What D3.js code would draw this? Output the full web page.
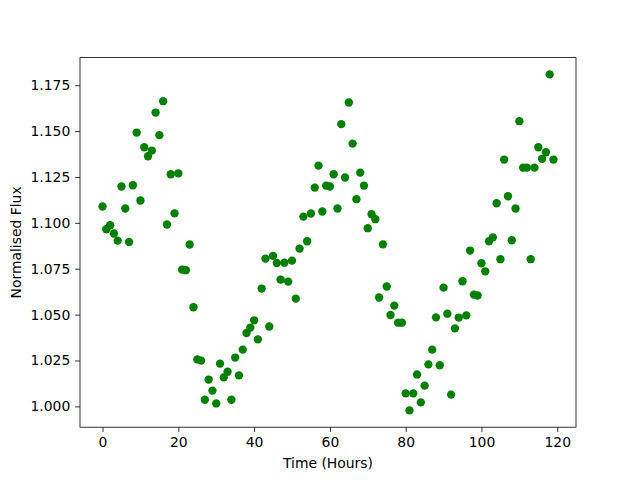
<!DOCTYPE html>
<html>
<head>
<meta charset="utf-8">
<script src="https://cdn.jsdelivr.net/npm/d3@7"></script>
<style>
  body { margin: 0; background: #fff; }
  svg text { font-family: "DejaVu Sans", sans-serif; }
</style>
</head>
<body>
<svg id="chart" width="640" height="480"></svg>
<script>
// hours, one reading per hour
const hours = d3.range(0, 120);

// normalised flux
const flux = [
  1.1089, 1.0965, 1.0987, 1.0942, 1.0903, 1.1198, 1.1078, 1.0896, 1.1205, 1.1492,
  1.1122, 1.1412, 1.1363, 1.1394, 1.1601, 1.1478, 1.1663, 1.0991, 1.1265, 1.1052,
  1.1270, 1.0745, 1.0742, 1.0882, 1.0540, 1.0256, 1.0249, 1.0036, 1.0146, 1.0086,
  1.0016, 1.0233, 1.0158, 1.0189, 1.0036, 1.0266, 1.0169, 1.0309, 1.0400, 1.0429,
  1.0469, 1.0365, 1.0642, 1.0805, 1.0435, 1.0820, 1.0781, 1.0691, 1.0783, 1.0680,
  1.0794, 1.0587, 1.0860, 1.1034, 1.0900, 1.1051, 1.1192, 1.1312, 1.1062, 1.1203,
  1.1198, 1.1265, 1.1078, 1.1538, 1.1247, 1.1656, 1.1432, 1.1129, 1.1274, 1.1203,
  1.0971, 1.1047, 1.1020, 1.0593, 1.0883, 1.0653, 1.0498, 1.0549, 1.0456, 1.0456,
  1.0071, 0.9978, 1.0071, 1.0174, 1.0022, 1.0113, 1.0229, 1.0309, 1.0485, 1.0224,
  1.0647, 1.0505, 1.0064, 1.0425, 1.0484, 1.0682, 1.0496, 1.0849, 1.0609, 1.0604,
  1.0780, 1.0736, 1.0900, 1.0921, 1.1107, 1.0802, 1.1345, 1.1145, 1.0905, 1.1078,
  1.1554, 1.1301, 1.1301, 1.0802, 1.1301, 1.1412, 1.1349, 1.1385, 1.1809, 1.1345
];

const xTicks = [0, 20, 40, 60, 80, 100, 120];
const yTicks = [1.000, 1.025, 1.050, 1.075, 1.100, 1.125, 1.150, 1.175];

const xLabel = 'Time (Hours)';
const yLabel = 'Normalised Flux';

const width = 640, height = 480;
const margin = { left: 80, right: 64, top: 57.6, bottom: 52.8 };

const svg = d3.select('#chart');

// matplotlib style 5% padding around data
function padded(ext) {
  const m = (ext[1] - ext[0]) * 0.05;
  return [ext[0] - m, ext[1] + m];
}

const x = d3.scaleLinear()
  .domain(padded(d3.extent(hours)))
  .range([margin.left, width - margin.right]);

const y = d3.scaleLinear()
  .domain(padded(d3.extent(flux)))
  .range([height - margin.bottom, margin.top]);

const tickLen = 4.86;
const fontSize = '13.9px';

// Achsen
const xAxis = svg.append('g')
  .attr('transform', `translate(0,${height - margin.bottom})`)
  .call(d3.axisBottom(x).tickValues(xTicks).tickSize(tickLen).tickPadding(4.9).tickFormat(d3.format('d')));

const yAxis = svg.append('g')
  .attr('transform', `translate(${margin.left},0)`)
  .call(d3.axisLeft(y).tickValues(yTicks).tickSize(tickLen).tickPadding(4.9).tickFormat(d3.format('.3f')));

[xAxis, yAxis].forEach(a => {
  a.select('.domain').remove();
  a.selectAll('.tick line').attr('stroke', '#000').attr('stroke-width', 0.8);
  a.selectAll('.tick text').attr('fill', '#000').style('font-size', fontSize);
});

// points
svg.append('g')
  .selectAll('circle')
  .data(hours.map((h, i) => ({ h, f: flux[i] })))
  .enter()
  .append('circle')
  .attr('cx', d => x(d.h))
  .attr('cy', d => y(d.f))
  .attr('r', 4.17)
  .attr('fill', '#008000');

// frame
svg.append('rect')
  .attr('x', margin.left)
  .attr('y', margin.top)
  .attr('width', width - margin.left - margin.right)
  .attr('height', height - margin.top - margin.bottom)
  .attr('fill', 'none')
  .attr('stroke', '#000')
  .attr('stroke-width', 0.8);

// labels
svg.append('text')
  .attr('x', (margin.left + width - margin.right) / 2)
  .attr('y', 468)
  .attr('text-anchor', 'middle')
  .style('font-size', fontSize)
  .text(xLabel);

svg.append('text')
  .attr('transform', `translate(21,${(margin.top + height - margin.bottom) / 2}) rotate(-90)`)
  .attr('text-anchor', 'middle')
  .style('font-size', fontSize)
  .text(yLabel);
</script>
</body>
</html>
